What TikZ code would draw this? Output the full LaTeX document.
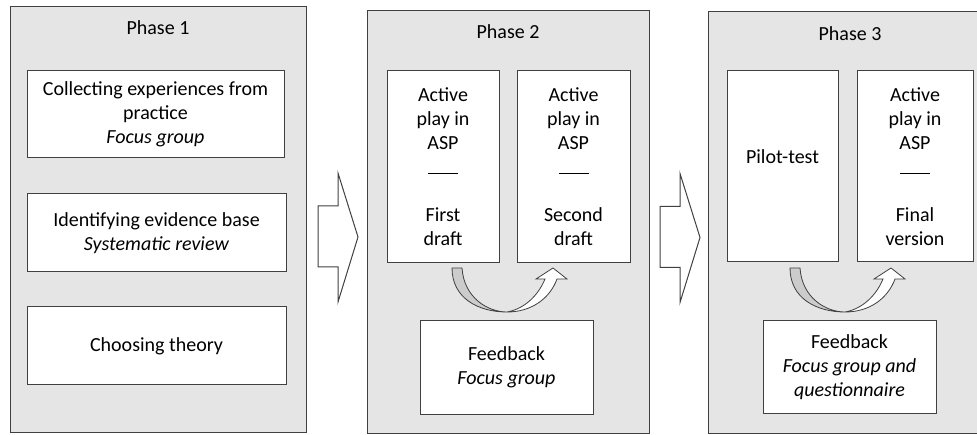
\documentclass[tikz,border=0pt]{standalone}
\usepackage{fontspec}
\setmainfont{Carlito}
\usetikzlibrary{positioning}
\tikzset{
  phase/.style={draw=black!75, fill=black!10, line width=1pt, inner sep=0pt},
  stepbox/.style={draw=black!75, fill=white, line width=1pt, align=center, inner sep=0pt},
  blockarr/.style={draw=black!75, fill=white, line width=1pt, line join=miter},
}
% hollow arrow between two phases, #1 = centre of the head base
\newcommand\blockarrow[1]{%
  \draw[blockarr, shift={(#1)}] (-20,-31) -- (0,-31) -- (0,-64) -- (20,0) -- (0,65) -- (0,30) -- (-20,30) -- cycle;}
% curved feedback arrow, #1 = upper left corner of its tail
\newcommand\loopback[1]{%
  \begin{scope}[shift={(#1)}, line width=0.8pt, draw=black!75]
    \filldraw[fill=black!20] (0,0) -- (10,0) .. controls (12,30) and (36,44) .. (55,44) .. controls (26,44) and (0,30) .. (0,0) -- cycle;
    \filldraw[fill=white] (55,44) .. controls (80,44) and (98,30) .. (105,11) -- (115,11) -- (101,0) -- (84,11) -- (93,11) .. controls (86,28) and (72,41) .. (55,44) -- cycle;
  \end{scope}}
\newcommand\sepline{\rule{30pt}{0.8pt}}

\begin{document}
\begin{tikzpicture}[x=1pt, y=-1pt, font=\fontsize{20}{24}\selectfont]
      \useasboundingbox (0,0) rectangle (977,435);
      \clip (0,0) rectangle (977,435);
      % phases
      \node[phase, minimum width=296pt, minimum height=425pt] (ph1) at (158,219.5) {};
      \node[phase, minimum width=282pt, minimum height=422pt] (ph2) at (508,222) {};
      \node[phase, minimum width=284pt, minimum height=421pt] (ph3) at (850,222.5) {};
      \node (t1) at (158,28) {Phase 1};
      \node (t2) at (508,32) {Phase 2};
      \node (t3) at (850,34) {Phase 3};
      % phase 1
      \node[stepbox, minimum width=257pt, minimum height=87pt] (exp) at (155.5,114.5) {Collecting experiences from\\practice\\\textit{Focus group}};
      \node[stepbox, minimum width=259pt, minimum height=78pt] (evi) at (156.5,233) {Identifying evidence base\\\textit{Systematic review}};
      \node[stepbox, minimum width=259pt, minimum height=78pt] (the) at (156.5,346) {Choosing theory};
      % phase 2
      \node[stepbox, minimum width=112pt, minimum height=192pt] (fd) at (443,167) {Active\\play in\\ASP\\\sepline\\[24pt]First\\draft};
      \node[stepbox, minimum width=113pt, minimum height=192pt] (sd) at (573.5,167) {Active\\play in\\ASP\\\sepline\\[24pt]Second\\draft};
      \node[stepbox, minimum width=173pt, minimum height=93pt] (fb2) at (506.5,367.5) {Feedback\\\textit{Focus group}};
      % phase 3
      \node[stepbox, minimum width=111pt, minimum height=191pt] (pil) at (782.5,166.5) {};
      \node (pt) at (782.5,157) {Pilot-test};
      \node[stepbox, minimum width=116pt, minimum height=191pt] (fv) at (915,166.5) {Active\\play in\\ASP\\\sepline\\[24pt]Final\\version};
      \node[stepbox, minimum width=173pt, minimum height=92pt] (fb3) at (849.5,367) {Feedback\\\textit{Focus group and}\\\textit{questionnaire}};
      % arrows
      \coordinate (a1) at (338,237);
      \coordinate (a2) at (680,237.5);
      \blockarrow{a1}
      \blockarrow{a2}
      \coordinate (c2) at (452,268);
      \coordinate (c3) at (790,268);
      \loopback{c2}
      \loopback{c3}
\end{tikzpicture}
\end{document}
